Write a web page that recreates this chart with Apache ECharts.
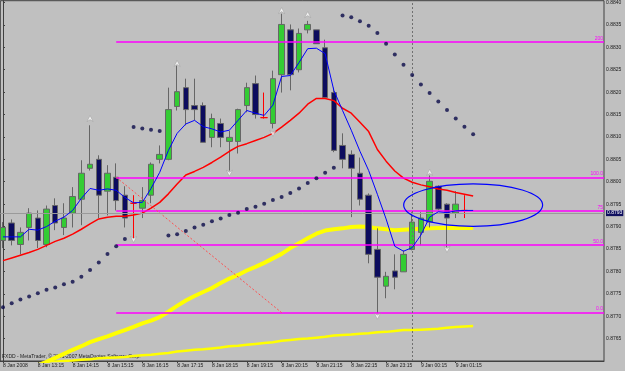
<!DOCTYPE html>
<html><head><meta charset="utf-8">
<script src="https://cdn.jsdelivr.net/npm/echarts@6/dist/echarts.min.js"></script>
<style>html,body{margin:0;padding:0;background:#c0c0c0}#c{width:625px;height:371px}</style>
</head><body><div id="c"></div>
<script>
// ---- data (15-minute bars, index 0 = 8 Jan 12:15) ----
const xLabelBars = [0,4,8,12,16,20,24,28,32,36,40,44,48,52];
const xLabels = ['8 Jan 2008','8 Jan 13:15','8 Jan 14:15','8 Jan 15:15','8 Jan 16:15','8 Jan 17:15','8 Jan 18:15','8 Jan 19:15','8 Jan 20:15','8 Jan 21:15','8 Jan 22:15','8 Jan 23:15','9 Jan 00:15','9 Jan 01:15'];
const yTicks = [0.8765,0.8770,0.8775,0.8780,0.8785,0.8790,0.8795,0.8800,0.8805,0.8810,0.8815,0.8820,0.8825,0.8830,0.8835,0.8840];

const opens  = [0.87869,0.87908,0.87860,0.87898,0.87919,0.87860,0.87947,0.87898,0.87930,0.87961,
                0.88030,0.88050,0.87979,0.88010,0.87970,0.87952,0.87941,0.87970,0.88050,0.88050,
                0.88168,0.88210,0.88170,0.88170,0.88099,0.88130,0.88090,0.88090,0.88170,0.88219,
                0.88143,0.88130,0.88239,0.88339,0.88250,0.88339,0.88339,0.88299,0.88199,0.88081,
                0.88061,0.88019,0.87970,0.87849,0.87767,0.87801,0.87799,0.87849,0.87887,0.87910,
                0.87990,0.87950,0.87930,0.87936];
const closes = [0.87898,0.87869,0.87887,0.87930,0.87869,0.87939,0.87908,0.87919,0.87967,0.88019,
                0.88039,0.87970,0.88019,0.87958,0.87919,0.87952,0.87958,0.88039,0.88061,0.88161,
                0.88201,0.88161,0.88161,0.88088,0.88141,0.88099,0.88099,0.88161,0.88210,0.88150,
                0.88143,0.88230,0.88351,0.88239,0.88331,0.88351,0.88308,0.88188,0.88070,0.88050,
                0.88030,0.87961,0.87838,0.87787,0.87789,0.87787,0.87838,0.87910,0.87919,0.88001,
                0.87939,0.87919,0.87950,0.87936];
const lows   = [0.87852,0.87858,0.87838,0.87869,0.87852,0.87854,0.87892,0.87881,0.87898,0.87903,
                0.88025,0.87919,0.87925,0.87936,0.87898,0.87874,0.87919,0.87952,0.88041,0.88048,
                0.88159,0.88126,0.88137,0.88088,0.88077,0.88077,0.88025,0.88063,0.88155,0.88141,
                0.88141,0.88119,0.88199,0.88204,0.88244,0.88331,0.88308,0.88186,0.88066,0.88030,
                0.87921,0.87947,0.87818,0.87707,0.87740,0.87760,0.87799,0.87847,0.87858,0.87898,
                0.87936,0.87854,0.87919,0.87919];
const highs  = [0.87910,0.87916,0.87898,0.87941,0.87936,0.87947,0.87963,0.87952,0.87988,0.88048,
                0.88126,0.88059,0.88037,0.88041,0.87990,0.87970,0.87988,0.88043,0.88081,0.88210,
                0.88259,0.88230,0.88230,0.88177,0.88152,0.88141,0.88114,0.88163,0.88221,0.88237,
                0.88199,0.88248,0.88375,0.88351,0.88342,0.88359,0.88339,0.88317,0.88210,0.88108,
                0.88070,0.88054,0.87974,0.87896,0.87799,0.87838,0.87847,0.87932,0.87932,0.88014,
                0.87992,0.87952,0.87979,0.87970];
const dojiBars = [15,30,53];

const blueMA = [0.87877,0.87877,0.87877,0.87894,0.87892,0.87900,0.87912,0.87921,0.87936,0.87963,
                0.87985,0.87981,0.87984,0.87981,0.87965,0.87953,0.87954,0.87985,0.88021,0.88070,
                0.88108,0.88129,0.88137,0.88123,0.88118,0.88111,0.88115,0.88137,0.88159,0.88153,
                0.88148,0.88171,0.88235,0.88237,0.88266,0.88297,0.88298,0.88286,0.88204,0.88159,
                0.88115,0.88068,0.88025,0.87972,0.87917,0.87856,0.87845,0.87853,0.87881,0.87921,
                0.87933,0.87931,0.87935,0.87936,0.87936];
const redMA  = [0.87824,0.87830,0.87836,0.87842,0.87849,0.87858,0.87867,0.87874,0.87883,0.87894,
                0.87906,0.87917,0.87921,0.87923,0.87923,0.87926,0.87930,0.87941,0.87954,0.87973,
                0.87995,0.88015,0.88023,0.88032,0.88043,0.88055,0.88068,0.88079,0.88085,0.88092,
                0.88099,0.88108,0.88122,0.88137,0.88153,0.88173,0.88186,0.88186,0.88181,0.88164,
                0.88153,0.88133,0.88112,0.88072,0.88046,0.88024,0.88008,0.87999,0.87993,0.87989,
                0.87984,0.87981,0.87976,0.87972,0.87968];
const yellowThick = [null,null,null,null,0.87589,0.87598,0.87607,0.87616,0.87625,0.87633,
                0.87642,0.87649,0.87655,0.87662,0.87669,0.87676,0.87684,0.87690,0.87698,0.87710,
                0.87723,0.87735,0.87745,0.87754,0.87763,0.87774,0.87784,0.87792,0.87802,0.87810,
                0.87819,0.87829,0.87839,0.87852,0.87863,0.87874,0.87884,0.87891,0.87894,0.87896,
                0.87899,0.87900,0.87899,0.87896,0.87894,0.87892,0.87893,0.87894,0.87895,0.87896,
                0.87897,0.87897,0.87897,0.87897,0.87897];
const yellowThin = [null,null,null,null,0.87594,0.87598,0.87599,0.87600,0.87601,0.87603,
                0.87604,0.87606,0.87607,0.87608,0.87609,0.87611,0.87613,0.87614,0.87616,0.87618,
                0.87621,0.87623,0.87625,0.87626,0.87628,0.87630,0.87633,0.87634,0.87636,0.87638,
                0.87640,0.87642,0.87645,0.87647,0.87649,0.87650,0.87652,0.87654,0.87657,0.87658,
                0.87659,0.87661,0.87662,0.87664,0.87665,0.87667,0.87669,0.87669,0.87670,0.87671,
                0.87672,0.87674,0.87676,0.87677,0.87678];
const sarDots = [0.87720,0.87729,0.87737,0.87744,0.87751,0.87759,0.87764,0.87771,0.87777,0.87788,
                0.87803,0.87820,0.87839,0.87856,0.87872,0.88122,0.88119,0.88116,0.88113,0.87880,
                0.87883,0.87890,0.87898,0.87904,0.87912,0.87918,0.87926,0.87931,0.87939,0.87944,
                0.87951,0.87959,0.87966,0.87975,0.87985,0.87997,0.88008,0.88020,0.88031,0.88371,
                0.88367,0.88358,0.88348,0.88332,0.88308,0.88284,0.88261,0.88238,0.88217,0.88198,
                0.88179,0.88160,0.88141,0.88123,0.88106];
const fractalUp   = [[10,0.88141],[20,0.88264],[32,0.88382],[35,0.88373],[49,0.88021]];
const fractalDown = [[15,0.87871],[26,0.88019],[31,0.88108],[43,0.87700],[51,0.87849]];

const fibLevels = [0,50,75,100,200];
const fibLabels = ['0.0','50.0','75','100.0','200'];
const fibStart = [13,0.88010];   // 100 % anchor
const fibEnd   = [32,0.87708];   // 0 % anchor
const separatorBar = 47;         // 9 Jan 00:00
const bidPrice = 0.8793;
const bidText = '0.8793';
const ellipseObj = [54.0,0.87948,7.98,0.000474]; // centre bar, centre price, half-width (bars), half-height (price)

const X_MIN = -0.31, X_MAX = 69.03, Y_MIN = 0.8760, Y_MAX = 0.88404;
const FONT = '"Liberation Sans", Arial, sans-serif';

// ---- build ----
const candleData = [], dojiData = [];
for (let i = 0; i < opens.length; i++) {
  const item = [i, opens[i], closes[i], lows[i], highs[i]];
  (dojiBars.includes(i) ? dojiData : candleData).push(item);
}
const idx = (arr) => arr.map((v, i) => [i, v]);
const fibMarks = fibLevels.map((lv, k) => {
  const p = fibEnd[1] + (fibStart[1] - fibEnd[1]) * lv / 100;
  return [{coord: [fibStart[0], p], name: fibLabels[k]}, {coord: [X_MAX, p]}];
});
const arrowPath = 'path://M5 0 L10 9 L5 6 L0 9 Z';

const chart = echarts.init(document.getElementById('c'), null, {renderer: 'canvas'});
chart.setOption({
  animation: false,
  backgroundColor: '#c0c0c0',
  textStyle: {fontFamily: FONT},
  grid: {left: 0, top: 0, right: 21, bottom: 10, show: true, borderColor: '#404040', borderWidth: 1, backgroundColor: 'transparent'},
  xAxis: {
    type: 'value', min: X_MIN, max: X_MAX, position: 'bottom',
    splitLine: {show: false},
    axisLine: {show: true, lineStyle: {color: '#404040'}},
    axisTick: {show: true, length: 2, inside: false, customValues: xLabelBars, lineStyle: {color: '#404040'}},
    axisLabel: {show: true, customValues: xLabelBars, align: 'left', margin: 2, fontSize: 5, color: '#1a1a1a', fontFamily: FONT,
      formatter: (v) => xLabels[xLabelBars.indexOf(Math.round(v))] || ''}
  },
  yAxis: {
    type: 'value', min: Y_MIN, max: Y_MAX, position: 'right', scale: true,
    splitLine: {show: false},
    axisLine: {show: true, lineStyle: {color: '#404040'}},
    axisTick: {show: true, length: 2, customValues: yTicks, lineStyle: {color: '#404040'}},
    axisLabel: {show: true, customValues: yTicks, margin: 2, fontSize: 5, color: '#1a1a1a', fontFamily: FONT,
      formatter: (v) => v.toFixed(4)}
  },
  series: [
    {type: 'line', name: 'yellowThin', data: idx(yellowThin), symbol: 'none', z: 2,
      lineStyle: {color: '#ffff00', width: 2.5}, connectNulls: false},
    {type: 'line', name: 'yellowThick', data: idx(yellowThick), symbol: 'none', z: 2,
      lineStyle: {color: '#ffff00', width: 4}},
    {type: 'candlestick', name: 'bars', data: candleData, encode: {x: 0, y: [1, 2, 3, 4]}, barWidth: 6, z: 3,
      itemStyle: {color: '#33cc33', color0: '#0c0c5e', borderColor: '#666666', borderColor0: '#666666', borderWidth: 1}},
    {type: 'candlestick', name: 'doji', data: dojiData, encode: {x: 0, y: [1, 2, 3, 4]}, barWidth: 7, z: 3,
      itemStyle: {color: '#ff0000', color0: '#ff0000', borderColor: '#ff0000', borderColor0: '#ff0000', borderColorDoji: '#ff0000', borderWidth: 1}},
    {type: 'line', name: 'red', data: idx(redMA), symbol: 'none', z: 4,
      lineStyle: {color: '#ff0000', width: 1.5}},
    {type: 'line', name: 'blue', data: idx(blueMA), symbol: 'none', z: 5,
      lineStyle: {color: '#0000ff', width: 1},
      markLine: {
        silent: true, symbol: ['none', 'none'], precision: 6,
        data: [
          ...fibMarks.map(m => [Object.assign({}, m[0], {
              lineStyle: {color: '#ff00ff', width: 1.6, type: 'solid'},
              label: {show: true, position: 'insideEndTop', distance: 1, formatter: '{b}', color: '#ff00ff', fontSize: 5, fontFamily: FONT}
            }), m[1]]),
          [{coord: fibStart, lineStyle: {color: '#ff5050', width: 1, type: [2, 2]}, label: {show: false}}, {coord: fibEnd}],
          {xAxis: separatorBar, lineStyle: {color: '#707070', width: 1, type: [2, 2]}, label: {show: false}},
          {yAxis: bidPrice, lineStyle: {color: '#9a9a9a', width: 1, type: 'solid'},
            label: {show: true, position: 'end', distance: 2, formatter: bidText, color: '#ffffff', backgroundColor: '#101060',
              padding: [1, 1, 0, 1], fontSize: 5, fontFamily: FONT}}
        ]
      }},
    {type: 'scatter', name: 'sar', data: idx(sarDots), symbol: 'circle', symbolSize: 4, z: 6,
      itemStyle: {color: '#0a0a48'}},
    {type: 'scatter', name: 'fracUp', data: fractalUp, symbol: arrowPath, symbolSize: [6, 6], z: 6,
      itemStyle: {color: '#ffffff', borderColor: '#909090', borderWidth: 0.5}},
    {type: 'scatter', name: 'fracDown', data: fractalDown, symbol: arrowPath, symbolRotate: 180, symbolSize: [6, 6], z: 6,
      itemStyle: {color: '#ffffff', borderColor: '#909090', borderWidth: 0.5}},
    {type: 'custom', name: 'ellipse', data: [ellipseObj], z: 7, clip: false,
      renderItem: (params, api) => {
        const c = api.coord([api.value(0), api.value(1)]);
        const e = api.coord([api.value(0) + api.value(2), api.value(1) + api.value(3)]);
        return {type: 'ellipse', shape: {cx: c[0], cy: c[1], rx: Math.abs(e[0] - c[0]), ry: Math.abs(e[1] - c[1])},
          style: {fill: null, stroke: '#0000ff', lineWidth: 1.2}};
      }}
  ],
  graphic: [
    {type: 'text', left: 2, top: 354, z: 1,
      style: {text: 'FXDD - MetaTrader, \u00a9 2001-2007 MetaQuotes Software Corp.', fontSize: 5, fill: '#202020', fontFamily: FONT}}
  ]
});
</script></body></html>
